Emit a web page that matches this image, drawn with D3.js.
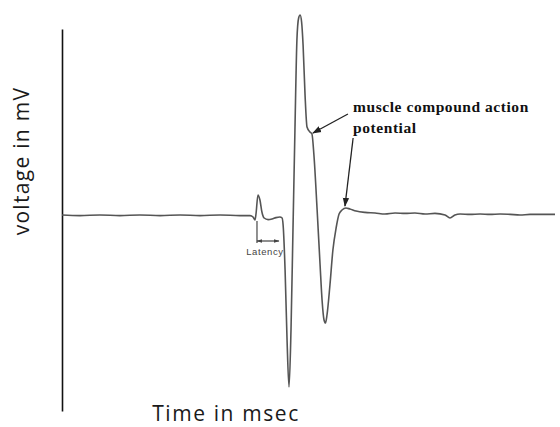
<!DOCTYPE html>
<html>
<head>
<meta charset="utf-8">
<script src="https://cdn.jsdelivr.net/npm/d3@7"></script>
<style>
  html, body { margin: 0; padding: 0; background: #fff; }
  svg { display: block; }
</style>
</head>
<body>
<div id="chart"></div>
<script>
// Recorded trace: time (ms) and voltage (mV)
const timeMs = [
  0, 0.73, 1.54, 2.35, 3.16, 3.98, 4.79, 5.60, 6.41, 7.22, 7.63, 7.75, 7.83, 7.87,
  7.95, 8.03, 8.11, 8.20, 8.36, 8.52, 8.68, 8.84, 8.93, 8.97, 9.05, 9.13, 9.21,
  9.29, 9.37, 9.45, 9.53, 9.60, 9.66, 9.72, 9.78, 9.86, 9.94, 10.06, 10.14, 10.22,
  10.35, 10.47, 10.55, 10.63, 10.69, 10.75, 10.87, 10.99, 11.12, 11.24, 11.36,
  11.52, 11.68, 11.93, 12.29, 12.70, 13.10, 13.51, 13.92, 14.32, 14.73, 15.13,
  15.54, 15.74, 15.94, 16.15, 16.55, 16.96, 17.36, 17.77, 18.18, 18.58, 18.99,
  19.39, 20
];
const voltageMv = [
  0, -0.03, 0, -0.03, 0, -0.03, 0, -0.03, 0, -0.03, -0.03, -0.1, -0.25, 0.05,
  1.0, 0.75, 0.15, -0.15, -0.23, -0.2, -0.13, -0.1, -0.15, -0.5, -2.75, -6.25, -8.6,
  -5.75, -0.75, 4.25, 8.75, 9.85, 10.0, 9.65, 8.5, 6.0, 4.4, 4.15, 4.05, 3.0,
  0.25, -2.5, -4.25, -5.25, -5.4, -5.0, -3.5, -1.75, -0.65, 0.05, 0.25,
  0.35, 0.3, 0.2, 0.13, 0.1, 0.05, 0.1, 0.08, 0.1, 0.05, 0.08,
  0, -0.15, 0, 0.05, 0.03, 0.05, 0.03, 0.05, 0.03, 0, 0.03,
  0.03, 0.03
];

// Latency marker (ms, mV)
const latencyStart = 7.91;
const latencyEnd = 8.80;
const latencyLevel = -1.3;
const latencyTickTop = -0.3;

// Annotation arrows: [tail time, tail mV, tip time, tip mV]
const annotationArrows = [
  [11.60, 5.05, 10.18, 4.1],
  [11.81, 3.85, 11.48, 0.45]
];
const annotationLines = ["muscle compound action", "potential"];
const annotationAnchor = [11.81, 5.15];

const width = 560, height = 427;
const svg = d3.select("#chart").append("svg")
  .attr("width", width).attr("height", height);

const defs = svg.append("defs");
defs.append("marker")
  .attr("id", "tip").attr("viewBox", "0 0 10 10")
  .attr("refX", 9).attr("refY", 5)
  .attr("markerWidth", 7).attr("markerHeight", 7)
  .attr("orient", "auto-start-reverse")
  .append("path").attr("d", "M0,1.5 L10,5 L0,8.5 Z").attr("fill", "#222");
defs.append("marker")
  .attr("id", "smalltip").attr("viewBox", "0 0 10 10")
  .attr("refX", 9).attr("refY", 5)
  .attr("markerWidth", 5).attr("markerHeight", 5)
  .attr("orient", "auto-start-reverse")
  .append("path").attr("d", "M0,2 L10,5 L0,8 Z").attr("fill", "#444");

const x = d3.scaleLinear().domain([0, 20]).range([62, 555]);
const y = d3.scaleLinear().domain([-9.8, 9.3]).range([411, 29]);

// Vertical axis line only
const yAxis = svg.append("g")
  .attr("transform", `translate(${x(0)},0)`)
  .call(d3.axisLeft(y).tickValues([]).tickSizeOuter(0));
yAxis.select(".domain").attr("stroke", "#111").attr("stroke-width", 1.6);

// Trace
const points = timeMs.map((t, i) => [t, voltageMv[i]]);
svg.append("path")
  .datum(points)
  .attr("fill", "none")
  .attr("stroke", "#555")
  .attr("stroke-width", 1.6)
  .attr("stroke-linejoin", "round")
  .attr("d", d3.line().x(d => x(d[0])).y(d => y(d[1])).curve(d3.curveMonotoneX));

// Latency bracket
svg.append("line")
  .attr("x1", x(latencyStart)).attr("x2", x(latencyStart))
  .attr("y1", y(latencyTickTop)).attr("y2", y(latencyLevel) + 2)
  .attr("stroke", "#555").attr("stroke-width", 1.3);
svg.append("line")
  .attr("x1", x(latencyStart)).attr("x2", x(latencyEnd))
  .attr("y1", y(latencyLevel)).attr("y2", y(latencyLevel))
  .attr("stroke", "#444").attr("stroke-width", 1.2)
  .attr("marker-start", "url(#smalltip)").attr("marker-end", "url(#smalltip)");
svg.append("text")
  .attr("x", x((latencyStart + latencyEnd) / 2) - 3)
  .attr("y", y(latencyLevel) + 14)
  .attr("text-anchor", "middle")
  .attr("font-family", "Liberation Sans, Arial, sans-serif")
  .attr("font-size", 9.5)
  .attr("letter-spacing", 0.6)
  .attr("fill", "#444")
  .text("Latency");

// Annotation arrows and label
annotationArrows.forEach(a => {
  svg.append("line")
    .attr("x1", x(a[0])).attr("y1", y(a[1]))
    .attr("x2", x(a[2])).attr("y2", y(a[3]))
    .attr("stroke", "#222").attr("stroke-width", 1.3)
    .attr("marker-end", "url(#tip)");
});
const label = svg.append("text")
  .attr("font-family", "Liberation Serif, Times New Roman, serif")
  .attr("font-weight", "bold")
  .attr("font-size", 15.5)
  .attr("letter-spacing", 0.55)
  .attr("fill", "#111");
annotationLines.forEach((s, i) => {
  label.append("tspan")
    .attr("x", x(annotationAnchor[0]))
    .attr("y", y(annotationAnchor[1]) + i * 21)
    .text(s);
});

// Axis titles
svg.append("text")
  .attr("transform", `translate(29,${y(2.7)}) rotate(-90)`)
  .attr("text-anchor", "middle")
  .attr("font-family", "Open Sans, sans-serif")
  .attr("font-size", 21)
  .attr("letter-spacing", 1.3)
  .attr("fill", "#1a1a1a")
  .text("voltage in mV");
svg.append("text")
  .attr("x", 226).attr("y", 421)
  .attr("text-anchor", "middle")
  .attr("font-family", "Open Sans, sans-serif")
  .attr("font-size", 21)
  .attr("letter-spacing", 1.6)
  .attr("fill", "#1a1a1a")
  .text("Time in msec");
</script>
</body>
</html>
